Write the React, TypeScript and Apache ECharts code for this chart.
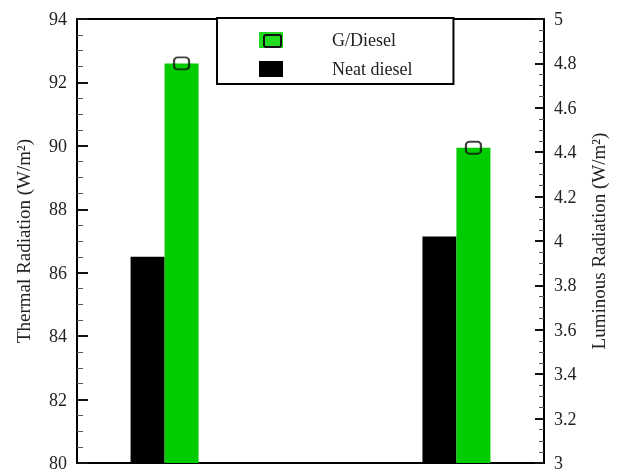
import React, { useEffect, useRef } from "react";
import * as echarts from "echarts";

// Radiation from each fuel: thermal on the left scale, luminous on the right scale
const radiationTypes = ["Thermal radiation", "Luminous radiation"];
const neatDiesel = [86.5, 4.02];
const gDiesel = [92.6, 4.42];

const thermalTicks = { min: 80, max: 94, step: 2 };
const luminousTicks = { min: 3, max: 5, step: 0.2 };

const SERIF = "'Liberation Serif', 'Times New Roman', serif";
const GREEN = "#00cc00";
const BAR_W = 34;

// the x axis is split into equal slots; each radiation type sits in one slot
const SLOT_COUNT = 8;
const typeSlot = [1, 6];
const slotNames = Array.from({ length: SLOT_COUNT }, (_, i) => {
  const k = typeSlot.indexOf(i);
  return k >= 0 ? radiationTypes[k] : `slot${i}`;
});

function valueAxis(side: string, ticks: { min: number; max: number; step: number }, name: string, nameGap: number, tickLen: number, minorLen: number) {
  return {
    type: "value",
    position: side,
    min: ticks.min,
    max: ticks.max,
    interval: ticks.step,
    name,
    nameLocation: "middle",
    nameRotate: 90,
    nameGap,
    nameTextStyle: { fontFamily: SERIF, fontSize: 19, color: "#222" },
    axisLine: { show: true, onZero: false, lineStyle: { color: "#000", width: 2 } },
    axisTick: { show: true, inside: true, length: tickLen, lineStyle: { color: "#111", width: 2 } },
    minorTick: { show: true, splitNumber: 4, length: minorLen, lineStyle: { color: "#555", width: 1 } },
    axisLabel: { margin: 10, fontFamily: SERIF, fontSize: 18, color: "#222" },
    splitLine: { show: false },
  };
}

export default function App() {
  const ref = useRef<HTMLDivElement>(null);

  useEffect(() => {
    if (!ref.current) return;
    const chart = echarts.init(ref.current, null, { renderer: "svg" });

    const barSeries = (name: string, values: number[], color: string) =>
      typeSlot.map((slot, k) => ({
        type: "bar",
        name,
        xAxisIndex: k,
        yAxisIndex: k,
        barWidth: BAR_W,
        barGap: "0%",
        itemStyle: { color },
        data: [[slot, values[k]]],
      }));

    const markerSeries = typeSlot.map((slot, k) => ({
      type: "scatter",
      name: "G/Diesel",
      xAxisIndex: k,
      yAxisIndex: k,
      symbol: "roundRect",
      symbolSize: [15, 12],
      symbolOffset: [BAR_W / 2, 0],
      itemStyle: { color: "rgba(0,0,0,0)", borderColor: "#111", borderWidth: 2 },
      z: 5,
      data: [[slot, gDiesel[k]]],
    }));

    chart.setOption({
      animation: false,
      grid: { left: 77, right: 73, top: 19, bottom: 9 },
      legend: {
        orient: "vertical",
        left: 217,
        top: 18,
        padding: [13, 41, 6, 42],
        itemWidth: 24,
        itemHeight: 16,
        itemGap: 11,
        borderColor: "#000",
        borderWidth: 2,
        backgroundColor: "#fff",
        z: 10,
        textStyle: { fontFamily: SERIF, fontSize: 18, color: "#222", padding: [0, 0, 0, 44] },
        data: [
          { name: "G/Diesel", icon: "rect", itemStyle: { color: "#22dd22", borderWidth: 0 } },
          { name: "Neat diesel", icon: "rect" },
        ],
      },
      graphic: [
        {
          type: "rect",
          z: 100,
          shape: { x: 264, y: 35, width: 17, height: 12, r: 2 },
          style: { fill: "none", stroke: "#111", lineWidth: 2 },
        },
      ],
      xAxis: [
        {
          type: "category",
          position: "bottom",
          data: slotNames,
          axisLine: { show: true, lineStyle: { color: "#000", width: 2 } },
          axisTick: { show: false },
          axisLabel: { show: false },
          splitLine: {
            show: true,
            interval: (index: number) => index === SLOT_COUNT / 2,
            lineStyle: { color: "#7a7a7a", width: 2 },
          },
        },
        {
          // plain frame line along the top of the plot
          type: "category",
          position: "top",
          data: slotNames,
          axisLine: { show: true, lineStyle: { color: "#000", width: 2 } },
          axisTick: { show: false },
          axisLabel: { show: false },
          splitLine: { show: false },
        },
      ],
      yAxis: [
        valueAxis("left", thermalTicks, "Thermal Radiation (W/m²)", 44, 11, 6),
        valueAxis("right", luminousTicks, "Luminous Radiation (W/m²)", 45, 9, 5),
      ],
      series: [
        ...barSeries("Neat diesel", neatDiesel, "#000"),
        ...barSeries("G/Diesel", gDiesel, GREEN),
        ...markerSeries,
      ],
    });

    return () => chart.dispose();
  }, []);

  return (
    <div
      ref={ref}
      style={{ width: 617, height: 472, position: "fixed", left: 0, top: 0 }}
    />
  );
}
